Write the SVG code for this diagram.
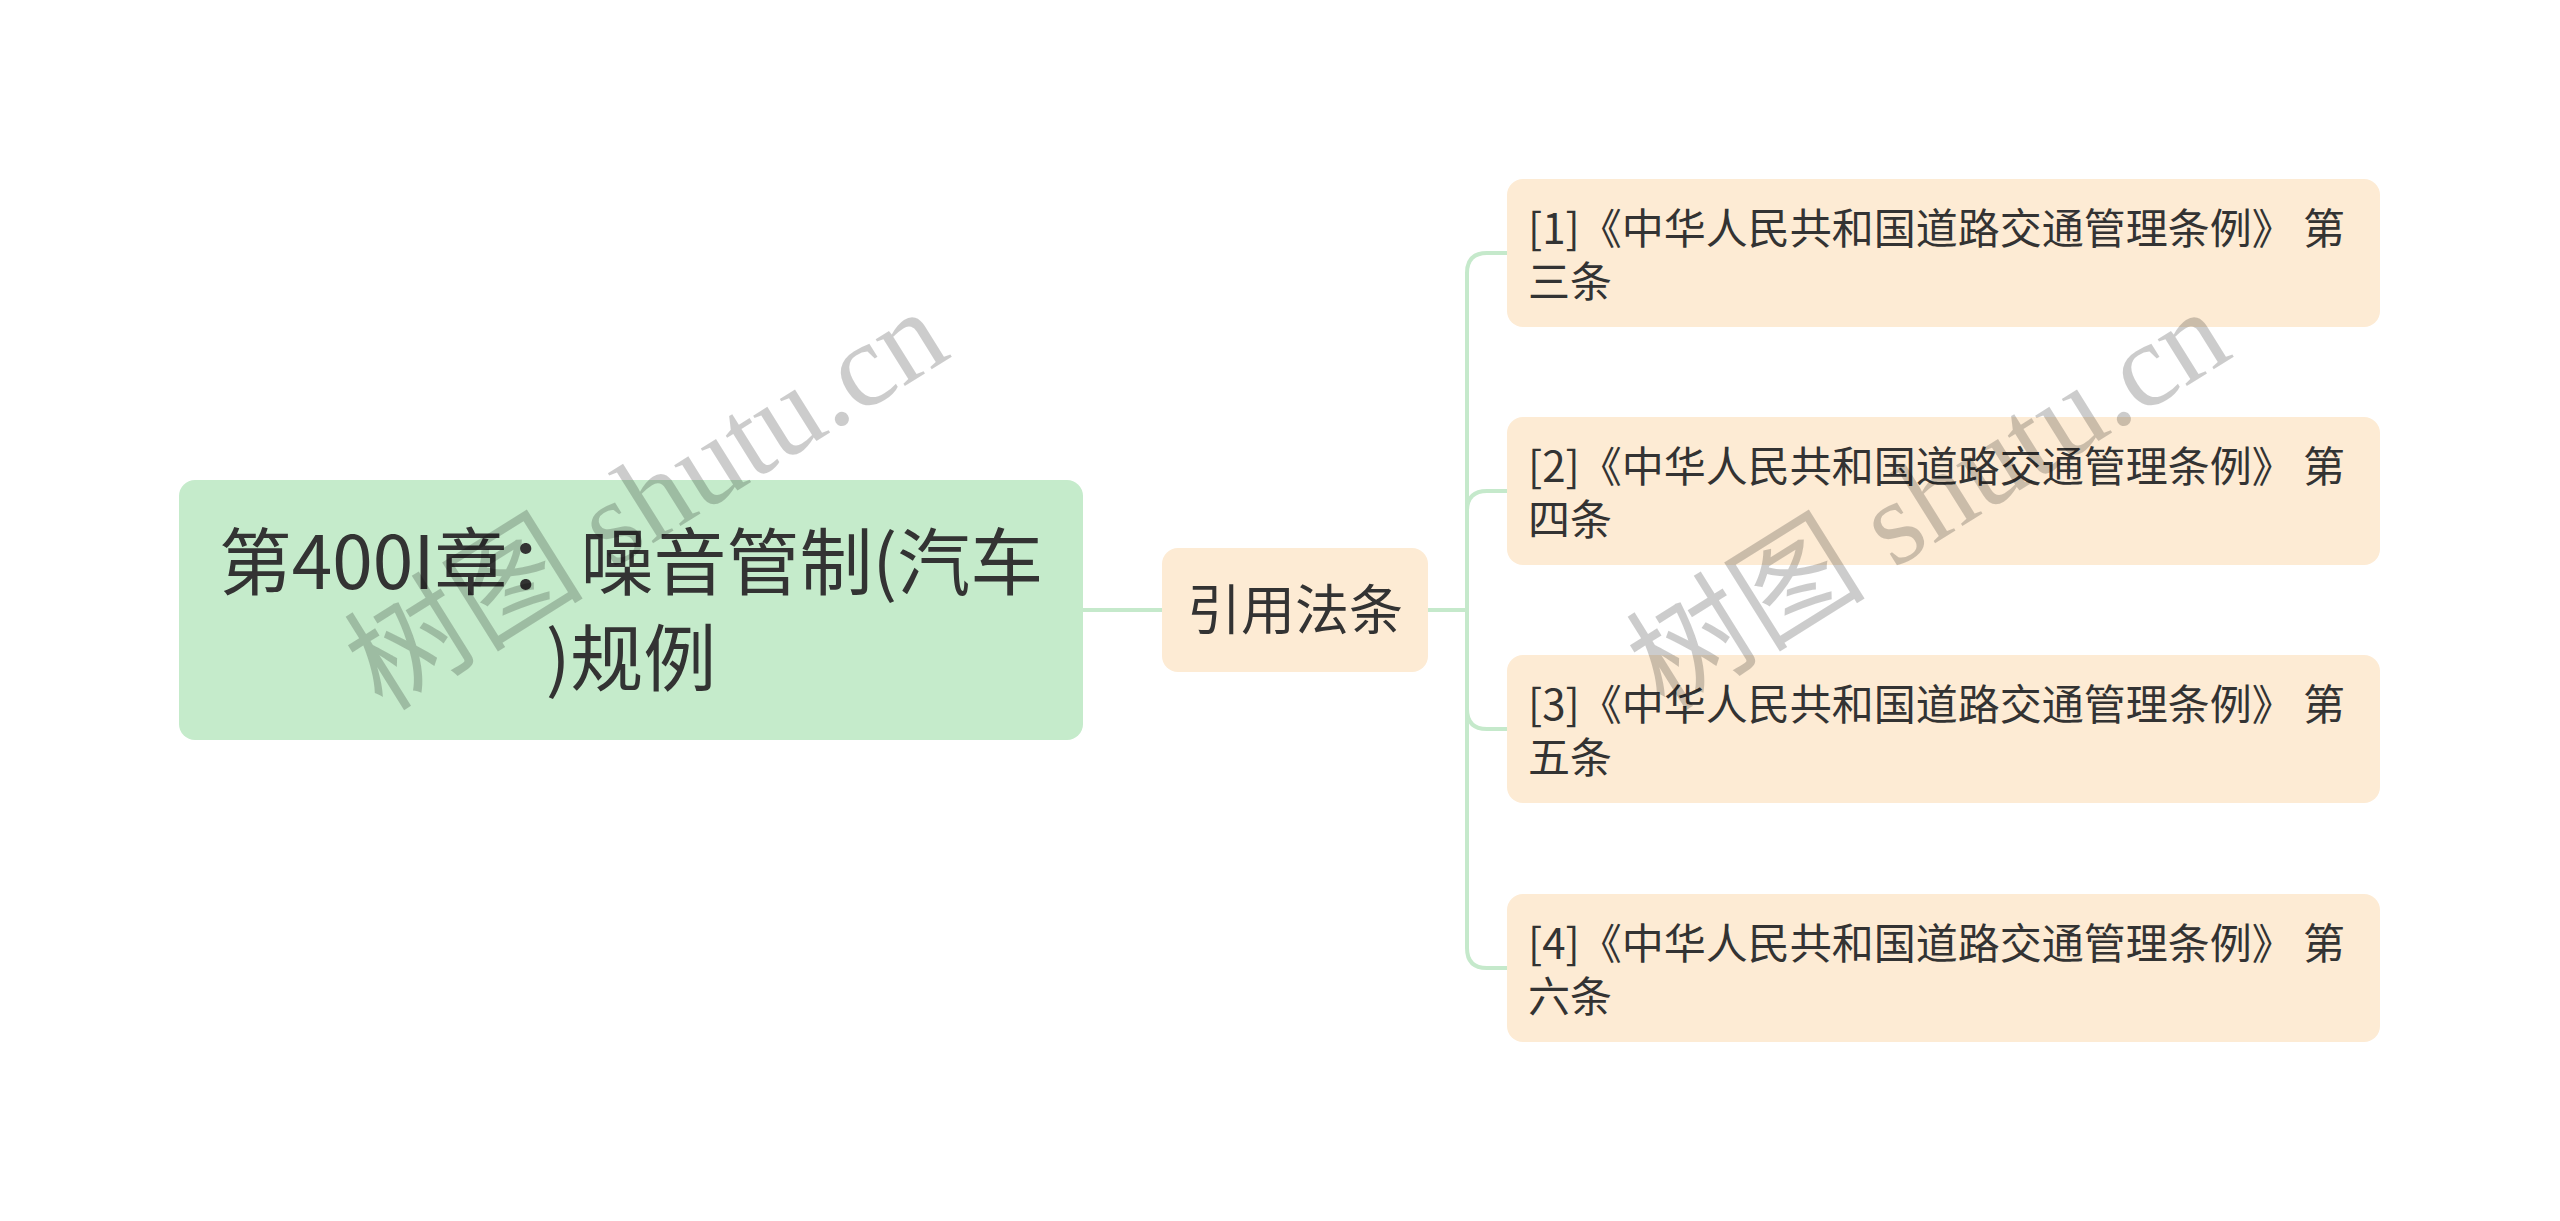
<svg xmlns="http://www.w3.org/2000/svg" width="2560" height="1221" viewBox="0 0 2560 1221">
<style>
.t{font-family:"Noto Sans CJK SC","Noto Sans",sans-serif;fill:#333333}
.root{fill:#c5ebcb}
.leaf{fill:#fdebd4}
.conn{fill:none;stroke:#c5e9cb;stroke-width:4;stroke-linecap:round}
.wm{font-family:"Liberation Serif","Noto Sans CJK SC",serif;fill:#000000;fill-opacity:0.2;font-size:120px}
</style>
<rect width="2560" height="1221" fill="#ffffff"/>
<g id="connectors">
<path class="conn" d="M1083,610 H1162"/>
<path class="conn" d="M1428,610 H1467"/>
<path class="conn" d="M1507,253 H1487 Q1467,253 1467,273 V948 Q1467,968 1487,968 H1507"/>
<path class="conn" d="M1467,511 Q1467,491 1487,491 H1507"/>
<path class="conn" d="M1467,709 Q1467,729 1487,729 H1507"/>
</g>
<g id="node-root">
<rect class="root" x="179" y="480" width="904" height="260" rx="16"/>
<text class="t" font-size="73" text-anchor="middle"><tspan x="631" y="589">第400I章：噪音管制(汽车</tspan><tspan x="631" y="685">)规例</tspan></text>
</g>
<g id="node-mid">
<rect class="leaf" x="1162" y="548" width="266" height="124" rx="16"/>
<text class="t" font-size="54" x="1295" y="630" text-anchor="middle">引用法条</text>
</g>
<g id="node-1">
<rect class="leaf" x="1507" y="179" width="873" height="148" rx="16"/>
<text class="t" font-size="42"><tspan x="1528" y="244">[1]《中华人民共和国道路交通管理条例》 第</tspan><tspan x="1528" y="297">三条</tspan></text>
</g>
<g id="node-2">
<rect class="leaf" x="1507" y="417" width="873" height="148" rx="16"/>
<text class="t" font-size="42"><tspan x="1528" y="482">[2]《中华人民共和国道路交通管理条例》 第</tspan><tspan x="1528" y="535">四条</tspan></text>
</g>
<g id="node-3">
<rect class="leaf" x="1507" y="655" width="873" height="148" rx="16"/>
<text class="t" font-size="42"><tspan x="1528" y="720">[3]《中华人民共和国道路交通管理条例》 第</tspan><tspan x="1528" y="773">五条</tspan></text>
</g>
<g id="node-4">
<rect class="leaf" x="1507" y="894" width="873" height="148" rx="16"/>
<text class="t" font-size="42"><tspan x="1528" y="959">[4]《中华人民共和国道路交通管理条例》 第</tspan><tspan x="1528" y="1012">六条</tspan></text>
</g>
<g id="watermarks">
<text class="wm" text-anchor="middle" transform="translate(668,534) rotate(-32)">树图 shutu.cn</text>
<text class="wm" text-anchor="middle" transform="translate(1950,534) rotate(-32)">树图 shutu.cn</text>
</g>
</svg>
